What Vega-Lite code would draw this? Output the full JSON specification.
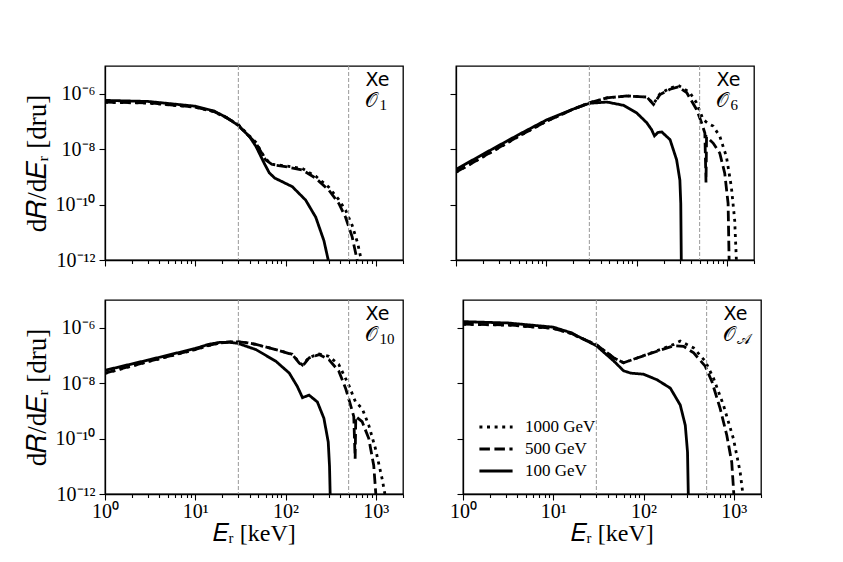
{
  "$schema": "https://vega.github.io/schema/vega-lite/v6.json",
  "padding": {"left": 22, "top": 64, "right": 5, "bottom": 5},
  "background": "white",
  "datasets": {
    "vlines": [{"E": 30}, {"E": 500}],
    "labels": [{"E": 768, "R": 1.95e-6, "t": "Xe"}],
    "curves": [
      {"op": "O1", "m": "100 GeV", "E": 1, "R": 5.75e-7},
      {"op": "O1", "m": "100 GeV", "E": 3, "R": 5.25e-7},
      {"op": "O1", "m": "100 GeV", "E": 10, "R": 3.55e-7},
      {"op": "O1", "m": "100 GeV", "E": 16, "R": 2.4e-7},
      {"op": "O1", "m": "100 GeV", "E": 22, "R": 1.41e-7},
      {"op": "O1", "m": "100 GeV", "E": 30, "R": 7.1e-8},
      {"op": "O1", "m": "100 GeV", "E": 40, "R": 2.8e-8},
      {"op": "O1", "m": "100 GeV", "E": 47, "R": 1.26e-8},
      {"op": "O1", "m": "100 GeV", "E": 58, "R": 3.1e-9},
      {"op": "O1", "m": "100 GeV", "E": 66, "R": 1.4e-9},
      {"op": "O1", "m": "100 GeV", "E": 76, "R": 9.0e-10},
      {"op": "O1", "m": "100 GeV", "E": 90, "R": 6.9e-10},
      {"op": "O1", "m": "100 GeV", "E": 119, "R": 4.4e-10},
      {"op": "O1", "m": "100 GeV", "E": 167, "R": 1.45e-10},
      {"op": "O1", "m": "100 GeV", "E": 216, "R": 3.5e-11},
      {"op": "O1", "m": "100 GeV", "E": 266, "R": 5.0e-12},
      {"op": "O1", "m": "100 GeV", "E": 297, "R": 1e-12},
      {"op": "O1", "m": "500 GeV", "E": 1, "R": 5.0e-7},
      {"op": "O1", "m": "500 GeV", "E": 3, "R": 4.7e-7},
      {"op": "O1", "m": "500 GeV", "E": 10, "R": 3.3e-7},
      {"op": "O1", "m": "500 GeV", "E": 16, "R": 2.3e-7},
      {"op": "O1", "m": "500 GeV", "E": 22, "R": 1.38e-7},
      {"op": "O1", "m": "500 GeV", "E": 30, "R": 7.6e-8},
      {"op": "O1", "m": "500 GeV", "E": 33, "R": 5.2e-8},
      {"op": "O1", "m": "500 GeV", "E": 47, "R": 1.66e-8},
      {"op": "O1", "m": "500 GeV", "E": 60, "R": 4.1e-9},
      {"op": "O1", "m": "500 GeV", "E": 72, "R": 2.7e-9},
      {"op": "O1", "m": "500 GeV", "E": 100, "R": 2.35e-9},
      {"op": "O1", "m": "500 GeV", "E": 153, "R": 1.78e-9},
      {"op": "O1", "m": "500 GeV", "E": 216, "R": 8.9e-10},
      {"op": "O1", "m": "500 GeV", "E": 302, "R": 3.3e-10},
      {"op": "O1", "m": "500 GeV", "E": 389, "R": 1.1e-10},
      {"op": "O1", "m": "500 GeV", "E": 462, "R": 3.5e-11},
      {"op": "O1", "m": "500 GeV", "E": 547, "R": 6.8e-12},
      {"op": "O1", "m": "500 GeV", "E": 621, "R": 1e-12},
      {"op": "O1", "m": "1000 GeV", "E": 1, "R": 4.9e-7},
      {"op": "O1", "m": "1000 GeV", "E": 3, "R": 4.6e-7},
      {"op": "O1", "m": "1000 GeV", "E": 10, "R": 3.25e-7},
      {"op": "O1", "m": "1000 GeV", "E": 16, "R": 2.25e-7},
      {"op": "O1", "m": "1000 GeV", "E": 22, "R": 1.38e-7},
      {"op": "O1", "m": "1000 GeV", "E": 30, "R": 7.6e-8},
      {"op": "O1", "m": "1000 GeV", "E": 47, "R": 1.74e-8},
      {"op": "O1", "m": "1000 GeV", "E": 60, "R": 4.4e-9},
      {"op": "O1", "m": "1000 GeV", "E": 72, "R": 2.8e-9},
      {"op": "O1", "m": "1000 GeV", "E": 100, "R": 2.5e-9},
      {"op": "O1", "m": "1000 GeV", "E": 153, "R": 2.0e-9},
      {"op": "O1", "m": "1000 GeV", "E": 216, "R": 1.05e-9},
      {"op": "O1", "m": "1000 GeV", "E": 302, "R": 4.2e-10},
      {"op": "O1", "m": "1000 GeV", "E": 389, "R": 1.5e-10},
      {"op": "O1", "m": "1000 GeV", "E": 462, "R": 6.3e-11},
      {"op": "O1", "m": "1000 GeV", "E": 547, "R": 1.78e-11},
      {"op": "O1", "m": "1000 GeV", "E": 630, "R": 4.0e-12},
      {"op": "O1", "m": "1000 GeV", "E": 690, "R": 1e-12},

      {"op": "O6", "m": "100 GeV", "E": 1, "R": 1.86e-9},
      {"op": "O6", "m": "100 GeV", "E": 2, "R": 6.6e-9},
      {"op": "O6", "m": "100 GeV", "E": 3.16, "R": 1.5e-8},
      {"op": "O6", "m": "100 GeV", "E": 5, "R": 3.4e-8},
      {"op": "O6", "m": "100 GeV", "E": 10, "R": 1.12e-7},
      {"op": "O6", "m": "100 GeV", "E": 20, "R": 2.8e-7},
      {"op": "O6", "m": "100 GeV", "E": 30, "R": 4.5e-7},
      {"op": "O6", "m": "100 GeV", "E": 47, "R": 5.0e-7},
      {"op": "O6", "m": "100 GeV", "E": 72, "R": 3.8e-7},
      {"op": "O6", "m": "100 GeV", "E": 100, "R": 2.05e-7},
      {"op": "O6", "m": "100 GeV", "E": 130, "R": 8.9e-8},
      {"op": "O6", "m": "100 GeV", "E": 147, "R": 5.0e-8},
      {"op": "O6", "m": "100 GeV", "E": 158, "R": 3.0e-8},
      {"op": "O6", "m": "100 GeV", "E": 172, "R": 4.0e-8},
      {"op": "O6", "m": "100 GeV", "E": 190, "R": 4.2e-8},
      {"op": "O6", "m": "100 GeV", "E": 235, "R": 2.2e-8},
      {"op": "O6", "m": "100 GeV", "E": 278, "R": 4.1e-9},
      {"op": "O6", "m": "100 GeV", "E": 302, "R": 7.6e-10},
      {"op": "O6", "m": "100 GeV", "E": 309, "R": 1.07e-10},
      {"op": "O6", "m": "100 GeV", "E": 313, "R": 1e-12},
      {"op": "O6", "m": "500 GeV", "E": 1, "R": 1.48e-9},
      {"op": "O6", "m": "500 GeV", "E": 2, "R": 5.4e-9},
      {"op": "O6", "m": "500 GeV", "E": 3.16, "R": 1.26e-8},
      {"op": "O6", "m": "500 GeV", "E": 5, "R": 3.0e-8},
      {"op": "O6", "m": "500 GeV", "E": 10, "R": 1.0e-7},
      {"op": "O6", "m": "500 GeV", "E": 20, "R": 2.8e-7},
      {"op": "O6", "m": "500 GeV", "E": 30, "R": 4.7e-7},
      {"op": "O6", "m": "500 GeV", "E": 47, "R": 7.1e-7},
      {"op": "O6", "m": "500 GeV", "E": 78, "R": 8.3e-7},
      {"op": "O6", "m": "500 GeV", "E": 130, "R": 7.6e-7},
      {"op": "O6", "m": "500 GeV", "E": 154, "R": 4.1e-7},
      {"op": "O6", "m": "500 GeV", "E": 182, "R": 9.3e-7},
      {"op": "O6", "m": "500 GeV", "E": 235, "R": 1.45e-6},
      {"op": "O6", "m": "500 GeV", "E": 290, "R": 1.78e-6},
      {"op": "O6", "m": "500 GeV", "E": 359, "R": 1.1e-6},
      {"op": "O6", "m": "500 GeV", "E": 462, "R": 2.7e-7},
      {"op": "O6", "m": "500 GeV", "E": 525, "R": 8.9e-8},
      {"op": "O6", "m": "500 GeV", "E": 571, "R": 3.8e-8},
      {"op": "O6", "m": "500 GeV", "E": 588, "R": 6.3e-10},
      {"op": "O6", "m": "500 GeV", "E": 596, "R": 2.8e-8},
      {"op": "O6", "m": "500 GeV", "E": 705, "R": 1.66e-8},
      {"op": "O6", "m": "500 GeV", "E": 836, "R": 7.1e-9},
      {"op": "O6", "m": "500 GeV", "E": 948, "R": 1.35e-9},
      {"op": "O6", "m": "500 GeV", "E": 1033, "R": 1.1e-10},
      {"op": "O6", "m": "500 GeV", "E": 1060, "R": 1e-12},
      {"op": "O6", "m": "1000 GeV", "E": 1, "R": 1.45e-9},
      {"op": "O6", "m": "1000 GeV", "E": 2, "R": 5.3e-9},
      {"op": "O6", "m": "1000 GeV", "E": 3.16, "R": 1.23e-8},
      {"op": "O6", "m": "1000 GeV", "E": 5, "R": 2.95e-8},
      {"op": "O6", "m": "1000 GeV", "E": 10, "R": 1.0e-7},
      {"op": "O6", "m": "1000 GeV", "E": 20, "R": 2.8e-7},
      {"op": "O6", "m": "1000 GeV", "E": 30, "R": 4.7e-7},
      {"op": "O6", "m": "1000 GeV", "E": 47, "R": 7.1e-7},
      {"op": "O6", "m": "1000 GeV", "E": 78, "R": 8.3e-7},
      {"op": "O6", "m": "1000 GeV", "E": 130, "R": 7.6e-7},
      {"op": "O6", "m": "1000 GeV", "E": 154, "R": 4.3e-7},
      {"op": "O6", "m": "1000 GeV", "E": 182, "R": 1.0e-6},
      {"op": "O6", "m": "1000 GeV", "E": 235, "R": 1.58e-6},
      {"op": "O6", "m": "1000 GeV", "E": 290, "R": 2.0e-6},
      {"op": "O6", "m": "1000 GeV", "E": 389, "R": 1.1e-6},
      {"op": "O6", "m": "1000 GeV", "E": 462, "R": 4.7e-7},
      {"op": "O6", "m": "1000 GeV", "E": 547, "R": 1.17e-7},
      {"op": "O6", "m": "1000 GeV", "E": 620, "R": 8.5e-8},
      {"op": "O6", "m": "1000 GeV", "E": 705, "R": 6.8e-8},
      {"op": "O6", "m": "1000 GeV", "E": 836, "R": 2.9e-8},
      {"op": "O6", "m": "1000 GeV", "E": 989, "R": 5.4e-9},
      {"op": "O6", "m": "1000 GeV", "E": 1122, "R": 4.4e-10},
      {"op": "O6", "m": "1000 GeV", "E": 1222, "R": 2.7e-11},
      {"op": "O6", "m": "1000 GeV", "E": 1276, "R": 1e-12},

      {"op": "O10", "m": "100 GeV", "E": 1, "R": 2.9e-8},
      {"op": "O10", "m": "100 GeV", "E": 3.16, "R": 7.1e-8},
      {"op": "O10", "m": "100 GeV", "E": 10, "R": 1.78e-7},
      {"op": "O10", "m": "100 GeV", "E": 14, "R": 2.5e-7},
      {"op": "O10", "m": "100 GeV", "E": 18.5, "R": 2.95e-7},
      {"op": "O10", "m": "100 GeV", "E": 24, "R": 3.0e-7},
      {"op": "O10", "m": "100 GeV", "E": 30, "R": 2.7e-7},
      {"op": "O10", "m": "100 GeV", "E": 47, "R": 1.62e-7},
      {"op": "O10", "m": "100 GeV", "E": 78, "R": 6.2e-8},
      {"op": "O10", "m": "100 GeV", "E": 110, "R": 2.3e-8},
      {"op": "O10", "m": "100 GeV", "E": 135, "R": 7.6e-9},
      {"op": "O10", "m": "100 GeV", "E": 154, "R": 3.0e-9},
      {"op": "O10", "m": "100 GeV", "E": 182, "R": 3.7e-9},
      {"op": "O10", "m": "100 GeV", "E": 225, "R": 2.1e-9},
      {"op": "O10", "m": "100 GeV", "E": 266, "R": 5.4e-10},
      {"op": "O10", "m": "100 GeV", "E": 297, "R": 7.6e-11},
      {"op": "O10", "m": "100 GeV", "E": 307, "R": 1e-11},
      {"op": "O10", "m": "100 GeV", "E": 312, "R": 1e-12},
      {"op": "O10", "m": "500 GeV", "E": 1, "R": 2.3e-8},
      {"op": "O10", "m": "500 GeV", "E": 3.16, "R": 6.3e-8},
      {"op": "O10", "m": "500 GeV", "E": 10, "R": 1.66e-7},
      {"op": "O10", "m": "500 GeV", "E": 14, "R": 2.3e-7},
      {"op": "O10", "m": "500 GeV", "E": 18.5, "R": 2.8e-7},
      {"op": "O10", "m": "500 GeV", "E": 24, "R": 3.05e-7},
      {"op": "O10", "m": "500 GeV", "E": 30, "R": 3.1e-7},
      {"op": "O10", "m": "500 GeV", "E": 38, "R": 2.85e-7},
      {"op": "O10", "m": "500 GeV", "E": 47, "R": 2.5e-7},
      {"op": "O10", "m": "500 GeV", "E": 78, "R": 1.62e-7},
      {"op": "O10", "m": "500 GeV", "E": 119, "R": 1.07e-7},
      {"op": "O10", "m": "500 GeV", "E": 141, "R": 5.4e-8},
      {"op": "O10", "m": "500 GeV", "E": 154, "R": 4.1e-8},
      {"op": "O10", "m": "500 GeV", "E": 182, "R": 8.1e-8},
      {"op": "O10", "m": "500 GeV", "E": 235, "R": 1.07e-7},
      {"op": "O10", "m": "500 GeV", "E": 302, "R": 7.1e-8},
      {"op": "O10", "m": "500 GeV", "E": 389, "R": 2.7e-8},
      {"op": "O10", "m": "500 GeV", "E": 462, "R": 6.6e-9},
      {"op": "O10", "m": "500 GeV", "E": 525, "R": 1.62e-9},
      {"op": "O10", "m": "500 GeV", "E": 570, "R": 6.2e-10},
      {"op": "O10", "m": "500 GeV", "E": 590, "R": 1.86e-11},
      {"op": "O10", "m": "500 GeV", "E": 600, "R": 6.3e-10},
      {"op": "O10", "m": "500 GeV", "E": 705, "R": 4.1e-10},
      {"op": "O10", "m": "500 GeV", "E": 836, "R": 1.0e-10},
      {"op": "O10", "m": "500 GeV", "E": 948, "R": 1.07e-11},
      {"op": "O10", "m": "500 GeV", "E": 1000, "R": 1e-12},
      {"op": "O10", "m": "1000 GeV", "E": 1, "R": 2.25e-8},
      {"op": "O10", "m": "1000 GeV", "E": 3.16, "R": 6.2e-8},
      {"op": "O10", "m": "1000 GeV", "E": 10, "R": 1.62e-7},
      {"op": "O10", "m": "1000 GeV", "E": 14, "R": 2.25e-7},
      {"op": "O10", "m": "1000 GeV", "E": 18.5, "R": 2.8e-7},
      {"op": "O10", "m": "1000 GeV", "E": 24, "R": 3.05e-7},
      {"op": "O10", "m": "1000 GeV", "E": 30, "R": 3.1e-7},
      {"op": "O10", "m": "1000 GeV", "E": 38, "R": 2.85e-7},
      {"op": "O10", "m": "1000 GeV", "E": 47, "R": 2.5e-7},
      {"op": "O10", "m": "1000 GeV", "E": 78, "R": 1.62e-7},
      {"op": "O10", "m": "1000 GeV", "E": 119, "R": 1.1e-7},
      {"op": "O10", "m": "1000 GeV", "E": 141, "R": 5.8e-8},
      {"op": "O10", "m": "1000 GeV", "E": 154, "R": 4.5e-8},
      {"op": "O10", "m": "1000 GeV", "E": 182, "R": 8.5e-8},
      {"op": "O10", "m": "1000 GeV", "E": 235, "R": 1.12e-7},
      {"op": "O10", "m": "1000 GeV", "E": 302, "R": 9.3e-8},
      {"op": "O10", "m": "1000 GeV", "E": 389, "R": 4.7e-8},
      {"op": "O10", "m": "1000 GeV", "E": 500, "R": 8.7e-9},
      {"op": "O10", "m": "1000 GeV", "E": 596, "R": 2.1e-9},
      {"op": "O10", "m": "1000 GeV", "E": 705, "R": 1.23e-9},
      {"op": "O10", "m": "1000 GeV", "E": 836, "R": 3.0e-10},
      {"op": "O10", "m": "1000 GeV", "E": 989, "R": 4.4e-11},
      {"op": "O10", "m": "1000 GeV", "E": 1175, "R": 3.5e-12},
      {"op": "O10", "m": "1000 GeV", "E": 1260, "R": 1e-12},

      {"op": "OA", "m": "100 GeV", "E": 1, "R": 1.66e-6},
      {"op": "OA", "m": "100 GeV", "E": 3.16, "R": 1.48e-6},
      {"op": "OA", "m": "100 GeV", "E": 10, "R": 1.05e-6},
      {"op": "OA", "m": "100 GeV", "E": 16, "R": 6.5e-7},
      {"op": "OA", "m": "100 GeV", "E": 18.5, "R": 5.0e-7},
      {"op": "OA", "m": "100 GeV", "E": 30, "R": 2.24e-7},
      {"op": "OA", "m": "100 GeV", "E": 47, "R": 6.2e-8},
      {"op": "OA", "m": "100 GeV", "E": 60, "R": 2.8e-8},
      {"op": "OA", "m": "100 GeV", "E": 72, "R": 2.3e-8},
      {"op": "OA", "m": "100 GeV", "E": 100, "R": 2.1e-8},
      {"op": "OA", "m": "100 GeV", "E": 141, "R": 1.32e-8},
      {"op": "OA", "m": "100 GeV", "E": 198, "R": 6.6e-9},
      {"op": "OA", "m": "100 GeV", "E": 255, "R": 1.62e-9},
      {"op": "OA", "m": "100 GeV", "E": 290, "R": 3.0e-10},
      {"op": "OA", "m": "100 GeV", "E": 307, "R": 3.2e-11},
      {"op": "OA", "m": "100 GeV", "E": 313, "R": 1e-12},
      {"op": "OA", "m": "500 GeV", "E": 1, "R": 1.35e-6},
      {"op": "OA", "m": "500 GeV", "E": 3.16, "R": 1.26e-6},
      {"op": "OA", "m": "500 GeV", "E": 10, "R": 9.5e-7},
      {"op": "OA", "m": "500 GeV", "E": 16, "R": 6.2e-7},
      {"op": "OA", "m": "500 GeV", "E": 18.5, "R": 4.9e-7},
      {"op": "OA", "m": "500 GeV", "E": 30, "R": 2.45e-7},
      {"op": "OA", "m": "500 GeV", "E": 47, "R": 8.1e-8},
      {"op": "OA", "m": "500 GeV", "E": 60, "R": 5.4e-8},
      {"op": "OA", "m": "500 GeV", "E": 85, "R": 8.1e-8},
      {"op": "OA", "m": "500 GeV", "E": 141, "R": 1.41e-7},
      {"op": "OA", "m": "500 GeV", "E": 216, "R": 2.24e-7},
      {"op": "OA", "m": "500 GeV", "E": 278, "R": 2.14e-7},
      {"op": "OA", "m": "500 GeV", "E": 359, "R": 1.23e-7},
      {"op": "OA", "m": "500 GeV", "E": 482, "R": 4.1e-8},
      {"op": "OA", "m": "500 GeV", "E": 571, "R": 1.15e-8},
      {"op": "OA", "m": "500 GeV", "E": 705, "R": 1.23e-9},
      {"op": "OA", "m": "500 GeV", "E": 836, "R": 1.32e-10},
      {"op": "OA", "m": "500 GeV", "E": 948, "R": 1.41e-11},
      {"op": "OA", "m": "500 GeV", "E": 1000, "R": 1e-12},
      {"op": "OA", "m": "1000 GeV", "E": 1, "R": 1.33e-6},
      {"op": "OA", "m": "1000 GeV", "E": 3.16, "R": 1.24e-6},
      {"op": "OA", "m": "1000 GeV", "E": 10, "R": 9.4e-7},
      {"op": "OA", "m": "1000 GeV", "E": 16, "R": 6.1e-7},
      {"op": "OA", "m": "1000 GeV", "E": 18.5, "R": 4.8e-7},
      {"op": "OA", "m": "1000 GeV", "E": 30, "R": 2.45e-7},
      {"op": "OA", "m": "1000 GeV", "E": 47, "R": 8.1e-8},
      {"op": "OA", "m": "1000 GeV", "E": 60, "R": 5.4e-8},
      {"op": "OA", "m": "1000 GeV", "E": 85, "R": 8.1e-8},
      {"op": "OA", "m": "1000 GeV", "E": 141, "R": 1.48e-7},
      {"op": "OA", "m": "1000 GeV", "E": 216, "R": 2.5e-7},
      {"op": "OA", "m": "1000 GeV", "E": 255, "R": 3.3e-7},
      {"op": "OA", "m": "1000 GeV", "E": 359, "R": 1.86e-7},
      {"op": "OA", "m": "1000 GeV", "E": 482, "R": 6.2e-8},
      {"op": "OA", "m": "1000 GeV", "E": 596, "R": 1.5e-8},
      {"op": "OA", "m": "1000 GeV", "E": 767, "R": 1.62e-9},
      {"op": "OA", "m": "1000 GeV", "E": 989, "R": 1.0e-10},
      {"op": "OA", "m": "1000 GeV", "E": 1175, "R": 6.2e-12},
      {"op": "OA", "m": "1000 GeV", "E": 1260, "R": 1e-12}
    ]
  },
  "config": {
    "view": {"stroke": "black", "strokeWidth": 1.3},
    "axis": {
      "grid": false,
      "domainColor": "black",
      "domainWidth": 1.3,
      "tickColor": "black",
      "tickWidth": 1.1,
      "labelColor": "black",
      "labelFont": "Liberation Serif",
      "labelFontSize": 20,
      "labelPadding": 4,
      "labelFlush": false,
      "labelOverlap": false,
      "titleColor": "black",
      "titleFont": "Liberation Serif",
      "titleFontSize": 24,
      "titleFontWeight": "normal"
    },
    "axisX": {"labelPadding": 1, "titlePadding": 0},
    "axisY": {"titleFontSize": 27}
  },
  "spacing": 27,
  "resolve": {"legend": {"strokeDash": "independent"}},
  "vconcat": [
    {
      "spacing": 43,
      "resolve": {"legend": {"strokeDash": "independent"}},
      "hconcat": [
        {
          "width": 298,
          "height": 194,
          "encoding": {
            "x": {"field": "E", "type": "quantitative", "scale": {"type": "log", "domain": [1, 2000], "nice": false},
              "axis": {"title": null, "labels": false, "values": [1,2,3,4,5,6,7,8,9,10,20,30,40,50,60,70,80,90,100,200,300,400,500,600,700,800,900,1000,2000],
                "tickSize": {"condition": {"test": "indexof([1,10,100,1000], datum.value) >= 0", "value": 6}, "value": 3.5}}},
            "y": {"field": "R", "type": "quantitative", "scale": {"type": "log", "domain": [1e-12, 1e-5], "nice": false},
              "axis": {"title": "d𝑅/d𝐸ᵣ [dru]", "values": [1e-12, 1e-10, 1e-8, 1e-6], "tickSize": 6,
                "labelExpr": "datum.value < 1e-11 ? '10⁻¹²' : datum.value < 1e-9 ? '10⁻¹⁰' : datum.value < 1e-7 ? '10⁻⁸' : '10⁻⁶'"}}
          },
          "layer": [
            {
              "data": {"name": "curves"},
              "transform": [{"filter": "datum.op == 'O1'"}],
              "mark": {"type": "line", "color": "black", "strokeWidth": 2.8, "clip": true},
              "encoding": {
                "strokeDash": {"field": "m", "type": "nominal", "legend": null,
                  "scale": {"domain": ["1000 GeV", "500 GeV", "100 GeV"], "range": [[3, 4.6], [10.5, 4.5], [1, 0]]}}
              }
            },
            {
              "data": {"name": "vlines"},
              "mark": {"type": "rule", "color": "#999999", "strokeWidth": 1, "strokeDash": [4, 2]},
              "encoding": {"y": null}
            },
            {
              "data": {"name": "labels"},
              "mark": {"type": "text", "align": "left", "baseline": "alphabetic", "font": "DejaVu Sans", "fontSize": 19, "color": "black"},
              "encoding": {"text": {"field": "t"}}
            },
            {
              "data": {"values": [{"E": 768, "R": 3.3e-7, "t": "𝒪", "s": "1"}]},
              "mark": {"type": "text", "align": "left", "baseline": "alphabetic", "fontSize": 20, "color": "black"},
              "encoding": {"text": {"field": "t"}}
            },
            {
              "data": {"values": [{"E": 768, "R": 3.3e-7, "t": "𝒪", "s": "1"}]},
              "mark": {"type": "text", "align": "left", "baseline": "alphabetic", "font": "Liberation Serif", "fontSize": 15, "color": "black", "dx": 14, "dy": 3},
              "encoding": {"text": {"field": "s"}}
            }
          ]
        },
        {
          "width": 298,
          "height": 194,
          "encoding": {
            "x": {"field": "E", "type": "quantitative", "scale": {"type": "log", "domain": [1, 2000], "nice": false},
              "axis": {"title": null, "labels": false, "values": [1,2,3,4,5,6,7,8,9,10,20,30,40,50,60,70,80,90,100,200,300,400,500,600,700,800,900,1000,2000],
                "tickSize": {"condition": {"test": "indexof([1,10,100,1000], datum.value) >= 0", "value": 6}, "value": 3.5}}},
            "y": {"field": "R", "type": "quantitative", "scale": {"type": "log", "domain": [1e-12, 1e-5], "nice": false},
              "axis": {"title": null, "labels": false, "values": [1e-12, 1e-10, 1e-8, 1e-6], "tickSize": 6}}
          },
          "layer": [
            {
              "data": {"name": "curves"},
              "transform": [{"filter": "datum.op == 'O6'"}],
              "mark": {"type": "line", "color": "black", "strokeWidth": 2.8, "clip": true},
              "encoding": {
                "strokeDash": {"field": "m", "type": "nominal", "legend": null,
                  "scale": {"domain": ["1000 GeV", "500 GeV", "100 GeV"], "range": [[3, 4.6], [10.5, 4.5], [1, 0]]}}
              }
            },
            {
              "data": {"name": "vlines"},
              "mark": {"type": "rule", "color": "#999999", "strokeWidth": 1, "strokeDash": [4, 2]},
              "encoding": {"y": null}
            },
            {
              "data": {"name": "labels"},
              "mark": {"type": "text", "align": "left", "baseline": "alphabetic", "font": "DejaVu Sans", "fontSize": 19, "color": "black"},
              "encoding": {"text": {"field": "t"}}
            },
            {
              "data": {"values": [{"E": 768, "R": 3.3e-7, "t": "𝒪", "s": "6"}]},
              "mark": {"type": "text", "align": "left", "baseline": "alphabetic", "fontSize": 20, "color": "black"},
              "encoding": {"text": {"field": "t"}}
            },
            {
              "data": {"values": [{"E": 768, "R": 3.3e-7, "t": "𝒪", "s": "6"}]},
              "mark": {"type": "text", "align": "left", "baseline": "alphabetic", "font": "Liberation Serif", "fontSize": 15, "color": "black", "dx": 14, "dy": 3},
              "encoding": {"text": {"field": "s"}}
            }
          ]
        }
      ]
    },
    {
      "spacing": 43,
      "resolve": {"legend": {"strokeDash": "independent"}},
      "hconcat": [
        {
          "width": 298,
          "height": 194,
          "encoding": {
            "x": {"field": "E", "type": "quantitative", "scale": {"type": "log", "domain": [1, 2000], "nice": false},
              "axis": {"title": "𝐸ᵣ  [keV]", "values": [1,2,3,4,5,6,7,8,9,10,20,30,40,50,60,70,80,90,100,200,300,400,500,600,700,800,900,1000,2000],
                "labelExpr": "datum.value == 1 ? '10⁰' : datum.value == 10 ? '10¹' : datum.value == 100 ? '10²' : datum.value == 1000 ? '10³' : ''",
                "tickSize": {"condition": {"test": "indexof([1,10,100,1000], datum.value) >= 0", "value": 6}, "value": 3.5}}},
            "y": {"field": "R", "type": "quantitative", "scale": {"type": "log", "domain": [1e-12, 1e-5], "nice": false},
              "axis": {"title": "d𝑅/d𝐸ᵣ [dru]", "values": [1e-12, 1e-10, 1e-8, 1e-6], "tickSize": 6,
                "labelExpr": "datum.value < 1e-11 ? '10⁻¹²' : datum.value < 1e-9 ? '10⁻¹⁰' : datum.value < 1e-7 ? '10⁻⁸' : '10⁻⁶'"}}
          },
          "layer": [
            {
              "data": {"name": "curves"},
              "transform": [{"filter": "datum.op == 'O10'"}],
              "mark": {"type": "line", "color": "black", "strokeWidth": 2.8, "clip": true},
              "encoding": {
                "strokeDash": {"field": "m", "type": "nominal", "legend": null,
                  "scale": {"domain": ["1000 GeV", "500 GeV", "100 GeV"], "range": [[3, 4.6], [10.5, 4.5], [1, 0]]}}
              }
            },
            {
              "data": {"name": "vlines"},
              "mark": {"type": "rule", "color": "#999999", "strokeWidth": 1, "strokeDash": [4, 2]},
              "encoding": {"y": null}
            },
            {
              "data": {"name": "labels"},
              "mark": {"type": "text", "align": "left", "baseline": "alphabetic", "font": "DejaVu Sans", "fontSize": 19, "color": "black"},
              "encoding": {"text": {"field": "t"}}
            },
            {
              "data": {"values": [{"E": 768, "R": 3.3e-7, "t": "𝒪", "s": "10"}]},
              "mark": {"type": "text", "align": "left", "baseline": "alphabetic", "fontSize": 20, "color": "black"},
              "encoding": {"text": {"field": "t"}}
            },
            {
              "data": {"values": [{"E": 768, "R": 3.3e-7, "t": "𝒪", "s": "10"}]},
              "mark": {"type": "text", "align": "left", "baseline": "alphabetic", "font": "Liberation Serif", "fontSize": 15, "color": "black", "dx": 14, "dy": 3},
              "encoding": {"text": {"field": "s"}}
            }
          ]
        },
        {
          "width": 298,
          "height": 194,
          "encoding": {
            "x": {"field": "E", "type": "quantitative", "scale": {"type": "log", "domain": [1, 2000], "nice": false},
              "axis": {"title": "𝐸ᵣ  [keV]", "values": [1,2,3,4,5,6,7,8,9,10,20,30,40,50,60,70,80,90,100,200,300,400,500,600,700,800,900,1000,2000],
                "labelExpr": "datum.value == 1 ? '10⁰' : datum.value == 10 ? '10¹' : datum.value == 100 ? '10²' : datum.value == 1000 ? '10³' : ''",
                "tickSize": {"condition": {"test": "indexof([1,10,100,1000], datum.value) >= 0", "value": 6}, "value": 3.5}}},
            "y": {"field": "R", "type": "quantitative", "scale": {"type": "log", "domain": [1e-12, 1e-5], "nice": false},
              "axis": {"title": null, "labels": false, "values": [1e-12, 1e-10, 1e-8, 1e-6], "tickSize": 6}}
          },
          "layer": [
            {
              "data": {"name": "curves"},
              "transform": [{"filter": "datum.op == 'OA'"}],
              "mark": {"type": "line", "color": "black", "strokeWidth": 2.8, "clip": true},
              "encoding": {
                "strokeDash": {"field": "m", "type": "nominal",
                  "scale": {"domain": ["1000 GeV", "500 GeV", "100 GeV"], "range": [[3, 4.6], [10.5, 4.5], [1, 0]]},
                  "legend": {"title": null, "orient": "none", "legendX": 15, "legendY": 116, "padding": 0, "symbolType": "stroke", "symbolSize": 1100,
                    "symbolStrokeWidth": 2.8, "symbolStrokeColor": "black", "labelFont": "Liberation Serif", "labelFontSize": 17,
                    "labelColor": "black", "labelOffset": 11, "clipHeight": 22, "rowPadding": 0}}
              }
            },
            {
              "data": {"name": "vlines"},
              "mark": {"type": "rule", "color": "#999999", "strokeWidth": 1, "strokeDash": [4, 2]},
              "encoding": {"y": null}
            },
            {
              "data": {"name": "labels"},
              "mark": {"type": "text", "align": "left", "baseline": "alphabetic", "font": "DejaVu Sans", "fontSize": 19, "color": "black"},
              "encoding": {"text": {"field": "t"}}
            },
            {
              "data": {"values": [{"E": 768, "R": 3.3e-7, "t": "𝒪", "s": "𝒜"}]},
              "mark": {"type": "text", "align": "left", "baseline": "alphabetic", "fontSize": 20, "color": "black"},
              "encoding": {"text": {"field": "t"}}
            },
            {
              "data": {"values": [{"E": 768, "R": 3.3e-7, "t": "𝒪", "s": "𝒜"}]},
              "mark": {"type": "text", "align": "left", "baseline": "alphabetic", "fontSize": 15, "color": "black", "dx": 14, "dy": 3},
              "encoding": {"text": {"field": "s"}}
            }
          ]
        }
      ]
    }
  ]
}
